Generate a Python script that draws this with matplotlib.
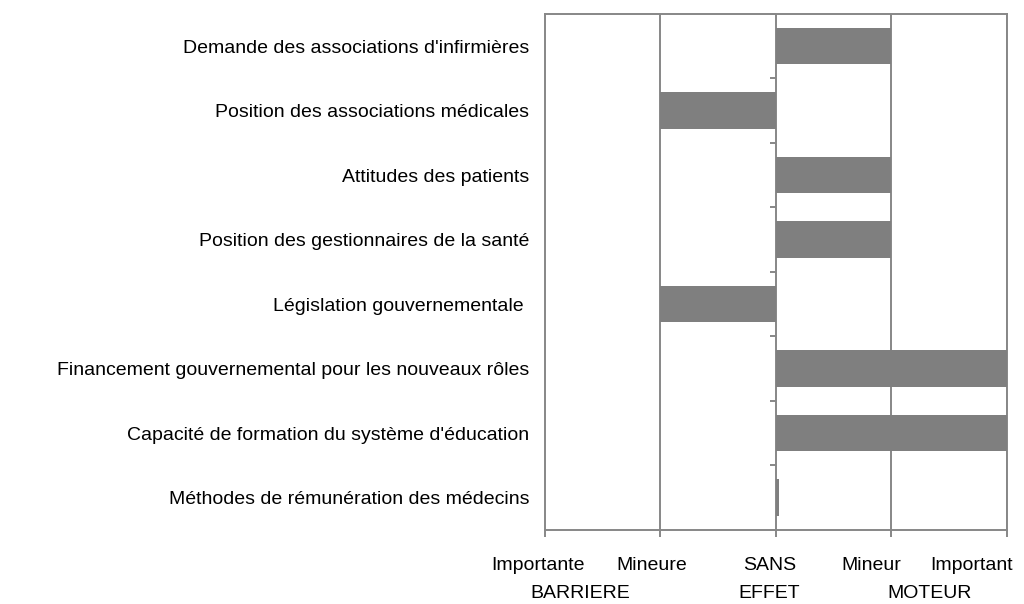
import matplotlib as mpl
mpl.rc('font', family='Liberation Sans', size=14)
import matplotlib.pyplot as plt
import matplotlib.transforms as mtransforms
import numpy as np

categories = ["Demande des associations d'infirmières",
              "Position des associations médicales",
              "Attitudes des patients",
              "Position des gestionnaires de la santé",
              "Législation gouvernementale ",
              "Financement gouvernemental pour les nouveaux rôles",
              "Capacité de formation du système d'éducation",
              "Méthodes de rémunération des médecins"]
values = [1, -1, 1, 1, -1, 2, 2, 0.03]

# x-axis annotations (position on the value scale, text)
top_labels = [(-2.06, "Importante"), (-1.07, "Mineure"), (-0.05, "SANS"),
              (0.83, "Mineur"), (1.70, "Important")]
bottom_labels = [(-1.69, "BARRIERE"), (-0.06, "EFFET"), (1.33, "MOTEUR")]

grey = '#878787'
fig = plt.figure(figsize=(10.24, 6.04), dpi=100)
ax = fig.add_axes([0.532, 0.1225, 0.451, 0.8545])

y = np.arange(len(categories))
ax.barh(y, values, height=0.566, color='#7f7f7f', zorder=3)
ax.set_xlim(-2, 2)
ax.set_ylim(len(categories) - 0.5, -0.5)

for xv in [-1, 0, 1, 2]:
    ax.axvline(xv, color=grey, lw=1.4, zorder=2)

for s in ax.spines.values():
    s.set_color(grey)
    s.set_linewidth(1.4)

ax.set_yticks(y)
ax.set_yticklabels(categories)
ax.tick_params(axis='y', length=0, pad=11)
ax.set_xticks([-2, -1, 0, 1, 2])
ax.set_xticklabels([])
ax.tick_params(axis='x', length=5, width=1.4, color=grey, direction='out')

# category separators on the zero axis
sec = ax.secondary_yaxis(0.5)
sec.yaxis.set_ticks_position('left')
sec.set_yticks(np.arange(len(categories) + 1) - 0.5)
sec.set_yticklabels([])
sec.tick_params(length=4.3, width=1.4, color=grey, direction='out')
for s in sec.spines.values():
    s.set_visible(False)

trans = mtransforms.blended_transform_factory(ax.transData, fig.transFigure)
for xv, t in top_labels:
    ax.text(xv, 1 - 566 / 604, t, transform=trans, ha='center', va='center')
for xv, t in bottom_labels:
    ax.text(xv, 1 - 594 / 604, t, transform=trans, ha='center', va='center')

fig.savefig('out.png', dpi=100)
